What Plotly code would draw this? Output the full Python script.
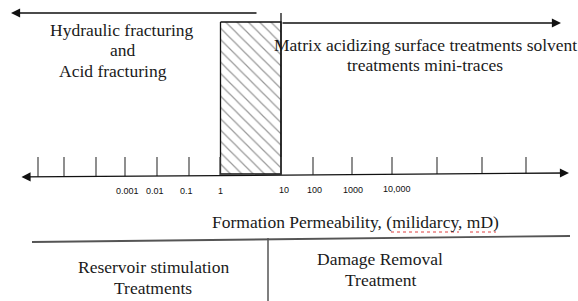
import plotly.graph_objects as go

# ---- data (diagram) ----
tick_x = [38, 64, 96, 125, 157, 189, 220, 281, 313, 352, 392, 437, 482, 526]
label_text = ["0.001", "0.01", "0.1", "1", "10", "100", "1000", "10,000"]
label_x = [127, 155, 186, 220, 284, 314, 353, 397]
box_range = [220.5, 281]          # permeability 1 .. 10 mD band
left_text = ["Hydraulic fracturing", "and", "Acid fracturing"]
left_text_x = [122, 123, 113]
right_text = ["Matrix acidizing surface treatments solvent", "treatments mini-traces"]
bottom_left = ["Reservoir stimulation", "Treatments"]
bottom_right = ["Damage Removal", "Treatment"]
axis_title = "Formation Permeability, (milidarcy, mD)"

W, H = 578, 301
SERIF = "Liberation Serif"
FS = 17.5

# axis line is slightly tilted
ax_x0, ax_y0, ax_x1, ax_y1 = 20, 177, 569, 173


def axis_y(x):
    return ax_y0 + (x - ax_x0) * (ax_y1 - ax_y0) / (ax_x1 - ax_x0)


fig = go.Figure()

# hatched band (1-10 mD)
bx0, bx1 = box_range
fig.add_trace(go.Scatter(
    x=[bx0, bx1, bx1, bx0, bx0], y=[22, 22, 174, 174, 22],
    mode="lines", fill="toself",
    fillcolor="white",
    fillpattern=dict(shape="\\", size=8, solidity=0.15, fgcolor="#333333", bgcolor="white"),
    line=dict(color="#111111", width=1.3), hoverinfo="skip", showlegend=False))

# right edge extended upward
fig.add_trace(go.Scatter(x=[bx1, bx1], y=[13, 174], mode="lines",
                         line=dict(color="#111111", width=1.3), hoverinfo="skip", showlegend=False))

# ticks
tx, ty = [], []
for x in tick_x:
    tx += [x, x, None]
    ty += [157, axis_y(x), None]
fig.add_trace(go.Scatter(x=tx, y=ty, mode="lines",
                         line=dict(color="#444444", width=1.2), hoverinfo="skip", showlegend=False))

# bottom table lines
fig.add_trace(go.Scatter(x=[32, 570], y=[242, 236], mode="lines",
                         line=dict(color="#555555", width=1.8), hoverinfo="skip", showlegend=False))
fig.add_trace(go.Scatter(x=[268, 268], y=[238, 301], mode="lines",
                         line=dict(color="#555555", width=1.5), hoverinfo="skip", showlegend=False))

# spell-check squiggles
fig.add_trace(go.Scatter(x=[391, 459, None, 470, 496], y=[232, 232, None, 232, 232], mode="lines",
                         line=dict(color="#e04040", width=1, dash="dot"), hoverinfo="skip", showlegend=False))

ann = []
arrow_common = dict(xref="x", yref="y", axref="x", ayref="y", text="", showarrow=True,
                    arrowhead=2, arrowsize=1.4, arrowwidth=1.3, arrowcolor="#111111", standoff=0)
# top-left arrow
ann.append(dict(x=11, y=13, ax=258, ay=13, **arrow_common))
# top-right arrow
ann.append(dict(x=561, y=23, ax=bx1, ay=23, **arrow_common))
# permeability axis (double headed)
ann.append(dict(x=ax_x1, y=ax_y1, ax=ax_x0, ay=ax_y0, arrowside="end+start",
                startarrowhead=2, startarrowsize=1.4, **arrow_common))

# tick labels
for t, x in zip(label_text, label_x):
    ann.append(dict(x=x, y=axis_y(x) + 15, text=t, showarrow=False, xanchor="center", yanchor="middle",
                    font=dict(family="Liberation Sans", size=9, color="#111111")))


def txt(t, x, y):
    ann.append(dict(x=x, y=y, text=t, showarrow=False, xanchor="center", yanchor="middle",
                    font=dict(family=SERIF, size=FS, color="#1a1a1a")))


for t, x, y in zip(left_text, left_text_x, [29.5, 50, 71]):
    txt(t, x, y)
for t, y in zip(right_text, [45, 65]):
    txt(t, 425, y)
txt(axis_title, 355, 222)
for t, y in zip(bottom_left, [266.5, 287.5]):
    txt(t, 153, y)
for t, y in zip(bottom_right, [259, 280]):
    txt(t, 380, y)

fig.update_layout(
    width=W, height=H, autosize=False,
    margin=dict(l=0, r=0, t=0, b=0),
    paper_bgcolor="white", plot_bgcolor="white",
    xaxis=dict(range=[0, W], visible=False, fixedrange=True),
    yaxis=dict(range=[H, 0], visible=False, fixedrange=True),
    annotations=ann, showlegend=False,
)

fig.write_html("out.html", config={"displayModeBar": False},
               post_script="document.body.style.margin='0px';document.body.style.overflow='hidden';")
